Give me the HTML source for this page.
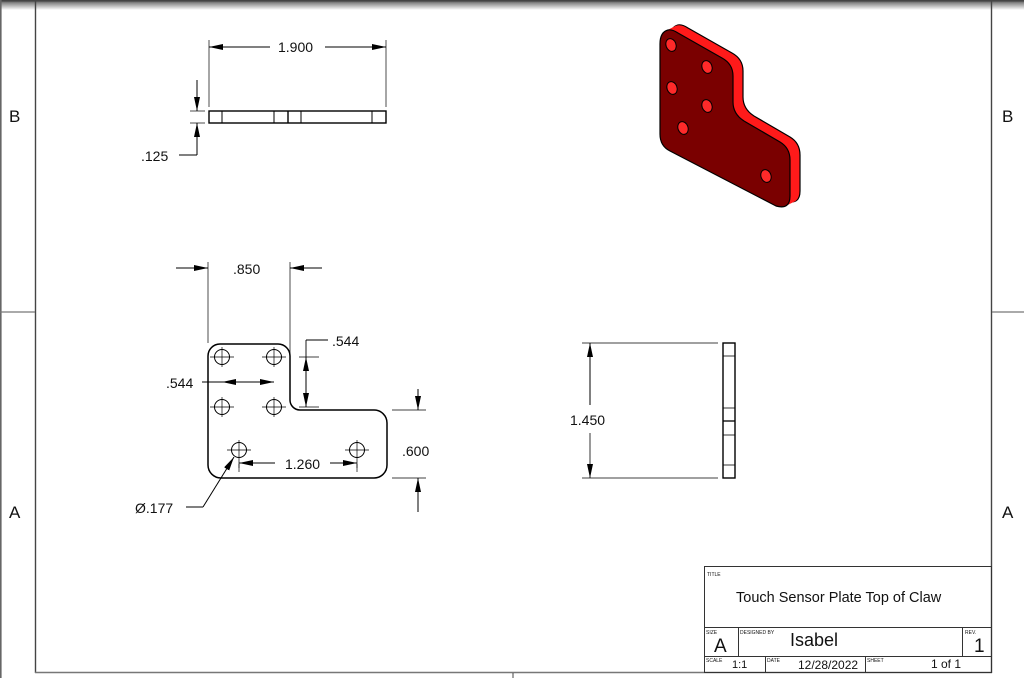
<!DOCTYPE html>
<html><head><meta charset="utf-8"><style>
html,body{margin:0;padding:0;background:#fff;}
svg{display:block;}
text{font-family:"Liberation Sans",sans-serif;fill:#111;}
</style></head><body>
<svg width="1024" height="678" viewBox="0 0 1024 678" xmlns="http://www.w3.org/2000/svg">
<defs>
<linearGradient id="tg" x1="0" y1="0" x2="0" y2="1"><stop offset="0" stop-color="#444"/><stop offset="0.3" stop-color="#888"/><stop offset="1" stop-color="#fff"/></linearGradient>
<marker id="ar" viewBox="0 0 14 6" refX="14" refY="3" markerWidth="14" markerHeight="6" markerUnits="userSpaceOnUse" orient="auto-start-reverse"><path d="M0,0 L14,3 L0,6z" fill="#000"/></marker>
<path id="face" d="M668,30 Q660,32 660,44 V134 Q660,146 670,151 L776,206 Q790,210 790,196 V160 Q790,148 780,142 L744,121 Q733,114 733,102 V76 Q733,64 722,58 L678,33 Q672,29 668,30 Z"/>
</defs>
<rect x="0" y="0" width="1024" height="10" fill="url(#tg)"/>
<rect x="0" y="0" width="1024" height="1.5" fill="#444"/>
<!-- frame -->
<g stroke="#444" fill="none">
<line x1="0.8" y1="0" x2="0.8" y2="678" stroke-width="1.6" stroke="#666"/>
<line x1="35.5" y1="0" x2="35.5" y2="673" stroke-width="1.4"/>
<line x1="991.5" y1="0" x2="991.5" y2="673" stroke-width="1.4"/>
<line x1="35" y1="672.5" x2="992" y2="672.5" stroke-width="1.4" stroke="#777"/>
<line x1="0" y1="312" x2="35" y2="312" stroke-width="1.2" stroke="#777"/>
<line x1="992" y1="312" x2="1024" y2="312" stroke-width="1.2" stroke="#777"/>
<line x1="513" y1="673" x2="513" y2="678" stroke-width="1"/>
</g>
<text x="9" y="122" font-size="17">B</text>
<text x="1002" y="122" font-size="17">B</text>
<text x="9" y="518" font-size="17">A</text>
<text x="1002" y="518" font-size="17">A</text>

<!-- top view -->
<g stroke="#000" stroke-width="1" fill="none">
<rect x="209" y="111" width="177" height="12" stroke-width="1.4"/>
<line x1="222" y1="111" x2="222" y2="123"/><line x1="274" y1="111" x2="274" y2="123"/>
<line x1="288" y1="111" x2="288" y2="123" stroke-width="1.4"/><line x1="301" y1="111" x2="301" y2="123"/>
<line x1="372" y1="111" x2="372" y2="123"/>
<line x1="209" y1="40" x2="209" y2="107" stroke-width="0.7"/>
<line x1="386" y1="40" x2="386" y2="107" stroke-width="0.7"/>
<line x1="209" y1="47" x2="270" y2="47" marker-start="url(#ar)"/>
<line x1="325" y1="47" x2="386" y2="47" marker-end="url(#ar)"/>
<line x1="190" y1="111" x2="205" y2="111" stroke-width="0.7"/>
<line x1="190" y1="123" x2="205" y2="123" stroke-width="0.7"/>
<line x1="197" y1="80" x2="197" y2="111" marker-end="url(#ar)"/>
<line x1="197" y1="155" x2="197" y2="123" marker-end="url(#ar)"/>
<line x1="179" y1="155" x2="197" y2="155"/>
</g>
<text x="278" y="52" font-size="14">1.900</text>
<text x="141" y="161" font-size="14">.125</text>

<!-- front view -->
<g stroke="#000" fill="none">
<path d="M220,344 H278 A12,12 0 0 1 290,356 V400 A10,10 0 0 0 300,410 H374 A13,13 0 0 1 387,423 V465 A13,13 0 0 1 374,478 H221 A13,13 0 0 1 208,465 V356 A12,12 0 0 1 220,344 Z" stroke-width="1.5"/>
<g stroke-width="1">
<circle cx="222" cy="357" r="7.5"/><circle cx="274" cy="357" r="7.5"/>
<circle cx="222" cy="407" r="7.5"/><circle cx="274" cy="407" r="7.5"/>
<circle cx="239" cy="450" r="7.5"/><circle cx="357" cy="450" r="7.5"/>
</g>
<g stroke-width="0.7">
<path d="M210,357h24M222,347v20M262,357h24M274,347v20M210,407h24M222,397v20M262,407h24M274,397v20M227,450h24M239,440v28M345,450h24M357,440v28M218,357h8M222,353v8M270,357h8M274,353v8M218,407h8M222,403v8M270,407h8M274,403v8M235,450h8M239,446v8M353,450h8M357,446v8"/>
<line x1="208" y1="262" x2="208" y2="343"/>
<line x1="290" y1="262" x2="290" y2="353"/>
<line x1="176" y1="268" x2="208" y2="268" stroke-width="1" marker-end="url(#ar)"/>
<line x1="322" y1="268" x2="290" y2="268" stroke-width="1" marker-end="url(#ar)"/>
<line x1="299" y1="357" x2="319" y2="357"/>
<line x1="299" y1="407" x2="319" y2="407"/>
<line x1="306" y1="380" x2="306" y2="357" stroke-width="1" marker-end="url(#ar)"/>
<line x1="306" y1="380" x2="306" y2="407" stroke-width="1" marker-end="url(#ar)"/>
<line x1="306" y1="357" x2="306" y2="340" stroke-width="0.9"/>
<line x1="306" y1="340" x2="328" y2="340" stroke-width="0.9"/>
<line x1="202" y1="382" x2="274" y2="382" stroke-width="0.9"/>
<line x1="248" y1="382" x2="222" y2="382" stroke-width="1" marker-end="url(#ar)"/>
<line x1="248" y1="382" x2="274" y2="382" stroke-width="1" marker-end="url(#ar)"/>
<line x1="392" y1="410" x2="426" y2="410"/>
<line x1="392" y1="478" x2="426" y2="478"/>
<line x1="418" y1="389" x2="418" y2="410" stroke-width="1" marker-end="url(#ar)"/>
<line x1="418" y1="512" x2="418" y2="478" stroke-width="1" marker-end="url(#ar)"/>
<line x1="239" y1="464" x2="239" y2="472"/>
<line x1="357" y1="464" x2="357" y2="472"/>
<line x1="275" y1="463" x2="239" y2="463" stroke-width="1" marker-end="url(#ar)"/>
<line x1="330" y1="463" x2="357" y2="463" stroke-width="1" marker-end="url(#ar)"/>
<line x1="186" y1="507" x2="203" y2="507" stroke-width="0.9"/>
<line x1="203" y1="507" x2="234" y2="457" stroke-width="1" marker-end="url(#ar)"/>
</g>
</g>
<text x="233" y="274" font-size="14">.850</text>
<text x="332" y="346" font-size="14">.544</text>
<text x="166" y="388" font-size="14">.544</text>
<text x="402" y="456" font-size="14">.600</text>
<text x="285" y="469" font-size="14">1.260</text>
<text x="135" y="513" font-size="14">Ø.177</text>

<!-- right view -->
<g stroke="#000" fill="none">
<rect x="723" y="343" width="12" height="135" stroke-width="1.4"/>
<g stroke-width="0.8">
<line x1="723" y1="356" x2="735" y2="356"/><line x1="723" y1="408" x2="735" y2="408"/>
<line x1="723" y1="421" x2="735" y2="421" stroke-width="1.3"/><line x1="723" y1="435" x2="735" y2="435"/>
<line x1="723" y1="465" x2="735" y2="465"/>
<line x1="582" y1="343" x2="718" y2="343" stroke-width="0.7"/>
<line x1="582" y1="478" x2="718" y2="478" stroke-width="0.7"/>
<line x1="590" y1="405" x2="590" y2="343" stroke-width="1" marker-end="url(#ar)"/>
<line x1="590" y1="433" x2="590" y2="478" marker-end="url(#ar)"/>
</g>
</g>
<text x="570" y="425" font-size="14">1.450</text>

<!-- iso view -->
<g>
<use href="#face" transform="translate(10,-5)" fill="#ff1a1a" stroke="#000" stroke-width="1.2"/>
<g fill="#ff1a1a">
<use href="#face" transform="translate(2,-1)"/><use href="#face" transform="translate(4,-2)"/>
<use href="#face" transform="translate(6,-3)"/><use href="#face" transform="translate(8,-4)"/>
<use href="#face" transform="translate(9,-4.5)"/>
</g>
<use href="#face" fill="#7a0000" stroke="#000" stroke-width="1.2"/>
<g fill="#ff2a2a" stroke="#000" stroke-width="1">
<ellipse cx="671" cy="45" rx="5" ry="6.5" transform="rotate(-20 671 45)"/>
<ellipse cx="707" cy="67" rx="5" ry="6.5" transform="rotate(-20 707 67)"/>
<ellipse cx="672" cy="88" rx="5" ry="6.5" transform="rotate(-20 672 88)"/>
<ellipse cx="707" cy="106" rx="5" ry="6.5" transform="rotate(-20 707 106)"/>
<ellipse cx="683" cy="128" rx="5" ry="6.5" transform="rotate(-20 683 128)"/>
<ellipse cx="766" cy="176" rx="5" ry="6.5" transform="rotate(-20 766 176)"/>
</g>
</g>

<!-- title block -->
<g stroke="#333" stroke-width="1" fill="none">
<rect x="704.5" y="566.5" width="287" height="106"/>
<line x1="704" y1="627.5" x2="991" y2="627.5"/>
<line x1="704" y1="656.5" x2="991" y2="656.5"/>
<line x1="738.5" y1="627" x2="738.5" y2="656"/>
<line x1="962.5" y1="627" x2="962.5" y2="656"/>
<line x1="765.5" y1="656" x2="765.5" y2="672"/>
<line x1="865.5" y1="656" x2="865.5" y2="672"/>
</g>
<g font-size="5">
<text x="707" y="576">TITLE</text>
<text x="706" y="634">SIZE</text>
<text x="740" y="634">DESIGNED BY</text>
<text x="965" y="634">REV.</text>
<text x="706" y="662">SCALE</text>
<text x="767" y="662">DATE</text>
<text x="867" y="662">SHEET</text>
</g>
<text x="736" y="602" font-size="14.5">Touch Sensor Plate Top of Claw</text>
<text x="714" y="652" font-size="19">A</text>
<text x="790" y="646" font-size="18">Isabel</text>
<text x="974" y="652" font-size="19">1</text>
<text x="732" y="668" font-size="11">1:1</text>
<text x="798" y="669" font-size="12">12/28/2022</text>
<text x="931" y="668" font-size="12">1 of 1</text>
</svg>
</body></html>
